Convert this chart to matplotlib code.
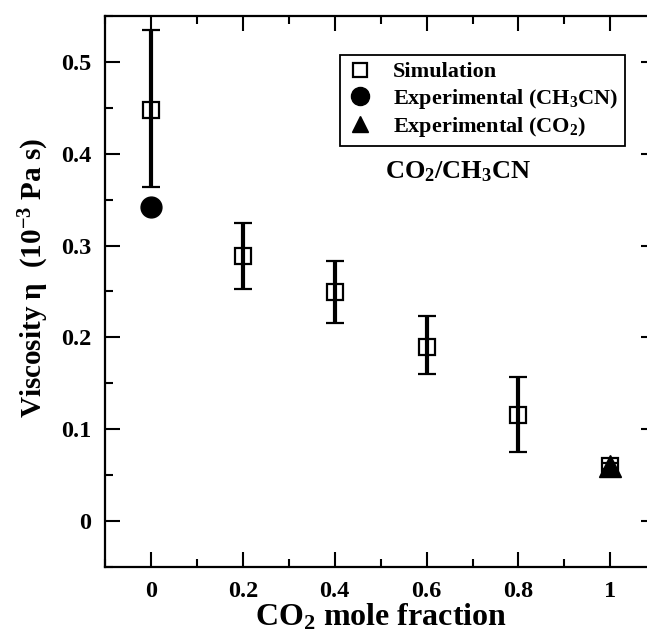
import numpy as np
import matplotlib
matplotlib.use('Agg')
import matplotlib.pyplot as plt
from matplotlib.lines import Line2D

plt.rcParams['font.family'] = ['Liberation Serif', 'DejaVu Serif']
plt.rcParams['font.weight'] = 'bold'
plt.rcParams['axes.labelweight'] = 'bold'
plt.rcParams['mathtext.fontset'] = 'custom'
plt.rcParams['mathtext.rm'] = 'Liberation Serif:bold'
plt.rcParams['mathtext.it'] = 'Liberation Serif:bold'
plt.rcParams['mathtext.bf'] = 'Liberation Serif:bold'
plt.rcParams['mathtext.default'] = 'rm'

# simulated viscosity vs CO2 mole fraction
x_sim = [0.0, 0.2, 0.4, 0.6, 0.8, 1.0]
eta_sim = [0.448, 0.289, 0.249, 0.190, 0.116, 0.060]
err_lo = [0.084, 0.036, 0.033, 0.030, 0.041, 0.003]
err_hi = [0.087, 0.036, 0.034, 0.033, 0.041, 0.003]

# experimental values of the pure liquids
x_exp_ch3cn = [0.0]
eta_exp_ch3cn = [0.342]
x_exp_co2 = [1.0]
eta_exp_co2 = [0.060]

xticks = [0, 0.2, 0.4, 0.6, 0.8, 1]
xticklabels = ['0', '0.2', '0.4', '0.6', '0.8', '1']
yticks = [0, 0.1, 0.2, 0.3, 0.4, 0.5]
yticklabels = ['0', '0.1', '0.2', '0.3', '0.4', '0.5']

fig = plt.figure(figsize=(6.47, 6.34), dpi=100)
ax = fig.add_axes([0.1623, 0.1057, 0.852, 0.8691])

ax.errorbar(x_sim, eta_sim, yerr=[err_lo, err_hi], fmt='s', color='black',
            ms=11, mfc='none', mew=1.6, elinewidth=3, capsize=6.5, capthick=3.2,
            zorder=3)
ax.plot(x_exp_ch3cn, eta_exp_ch3cn, 'o', color='black', ms=15, zorder=4)
ax.plot(x_exp_co2, eta_exp_co2, '^', color='black', ms=16, zorder=4)

ax.set_xlim(-0.1, 1.1)
ax.set_ylim(-0.05, 0.55)
ax.set_xticks(xticks)
ax.set_xticklabels(xticklabels)
ax.set_yticks(yticks)
ax.set_yticklabels(yticklabels)
ax.set_xticks(np.arange(-0.1, 1.11, 0.1), minor=True)
ax.set_yticks(np.arange(-0.05, 0.551, 0.05), minor=True)
ax.tick_params(which='both', direction='in', top=True, right=True,
               labelsize=17.5, width=1.5)
ax.tick_params(which='major', length=11, pad=10)
ax.tick_params(which='minor', length=6)
for sp in ax.spines.values():
    sp.set_linewidth(1.6)

ax.set_xlabel('CO$_2$ mole fraction', fontsize=23, labelpad=0)
ax.set_ylabel(r'Viscosity η  (10$^{-3}$ Pa s)', fontsize=21)
ax.yaxis.set_label_coords(-0.098, 0.524)

handles = [
    Line2D([], [], ls='none', marker='s', ms=10, mfc='none', mec='black', mew=1.6),
    Line2D([], [], ls='none', marker='o', ms=13, color='black'),
    Line2D([], [], ls='none', marker='^', ms=12, color='black'),
]
labels = ['Simulation', 'Experimental (CH$_3$CN)', 'Experimental (CO$_2$)']
leg = ax.legend(handles, labels, loc='upper right',
                bbox_to_anchor=(0.966, 0.913), bbox_transform=fig.transFigure,
                fontsize=16, frameon=True, fancybox=False, framealpha=1,
                edgecolor='black', borderpad=0.3, labelspacing=0.2,
                handletextpad=0.9, handlelength=1.2, borderaxespad=0)
leg.get_frame().set_linewidth(1.3)

ax.text(0.51, 0.38, 'CO$_2$/CH$_3$CN', fontsize=19, ha='left', va='center')

fig.savefig('out.png', dpi=100)
